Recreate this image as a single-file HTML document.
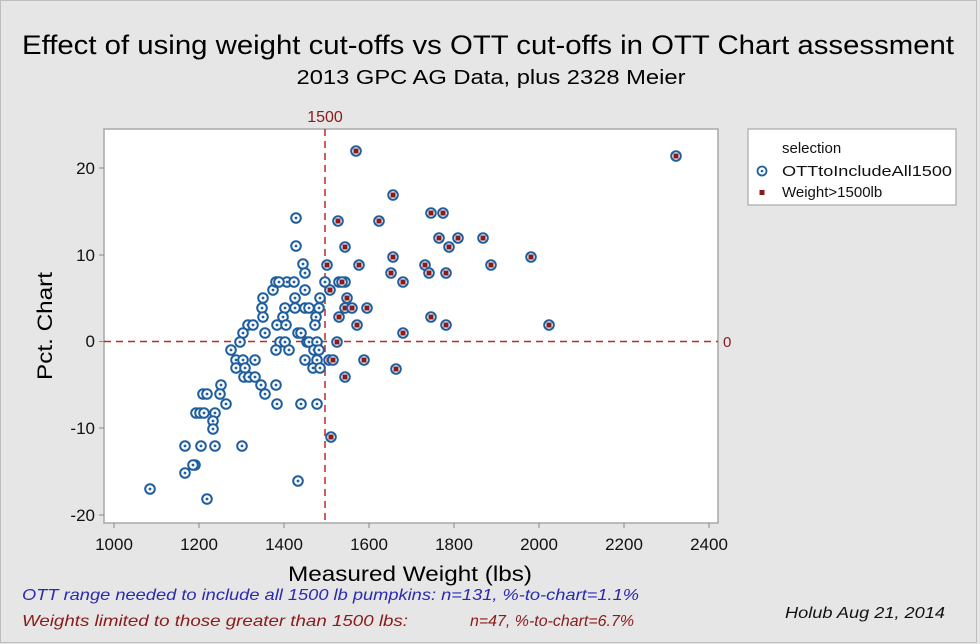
<!DOCTYPE html>
<html><head><meta charset="utf-8"><style>
html,body{margin:0;padding:0;background:#e6e6e6;}
svg{display:block;font-family:"Liberation Sans",sans-serif;}
</style></head><body>
<svg id="s" width="980" height="644" viewBox="0 0 980 644" xmlns="http://www.w3.org/2000/svg">
<rect x="0" y="0" width="980" height="644" fill="#e6e6e6"/>
<rect x="0.5" y="0.5" width="976" height="642" fill="none" stroke="#bdbdbd"/>
<text x="488" y="54" font-size="27" text-anchor="middle" textLength="932" lengthAdjust="spacingAndGlyphs" fill="#000">Effect of using weight cut-offs vs OTT cut-offs in OTT Chart assessment</text>
<text x="491" y="84" font-size="20" text-anchor="middle" textLength="389" lengthAdjust="spacingAndGlyphs" fill="#000">2013 GPC AG Data, plus 2328 Meier</text>
<rect x="104" y="129" width="614" height="394" fill="#fff" stroke="#a8a8a8" stroke-width="1.5"/>
<g stroke="#888" stroke-width="1">
<line x1="114" y1="523" x2="114" y2="528"/><line x1="199" y1="523" x2="199" y2="528"/><line x1="284" y1="523" x2="284" y2="528"/><line x1="369" y1="523" x2="369" y2="528"/><line x1="454" y1="523" x2="454" y2="528"/><line x1="539" y1="523" x2="539" y2="528"/><line x1="624" y1="523" x2="624" y2="528"/><line x1="709" y1="523" x2="709" y2="528"/>
<line x1="99" y1="515" x2="104" y2="515"/><line x1="99" y1="428" x2="104" y2="428"/><line x1="99" y1="341.5" x2="104" y2="341.5"/><line x1="99" y1="255" x2="104" y2="255"/><line x1="99" y1="168" x2="104" y2="168"/>
</g>
<g font-size="17" fill="#111" text-anchor="middle">
<text x="114" y="550">1000</text><text x="199" y="550">1200</text><text x="284" y="550">1400</text><text x="369" y="550">1600</text><text x="454" y="550">1800</text><text x="539" y="550">2000</text><text x="624" y="550">2200</text><text x="709" y="550">2400</text>
</g>
<g font-size="17" fill="#111" text-anchor="end">
<text x="95" y="521">-20</text><text x="95" y="434">-10</text><text x="95" y="347">0</text><text x="95" y="261">10</text><text x="95" y="174">20</text>
</g>
<text x="410" y="581" font-size="21" text-anchor="middle" textLength="244" lengthAdjust="spacingAndGlyphs">Measured Weight (lbs)</text>
<text transform="translate(52,326) rotate(-90)" font-size="21" text-anchor="middle" textLength="108" lengthAdjust="spacingAndGlyphs">Pct. Chart</text>
<line x1="325" y1="129" x2="325" y2="523" stroke="#c0282d" stroke-width="1.5" stroke-dasharray="7,5"/>
<line x1="104" y1="341.5" x2="718" y2="341.5" stroke="#c0282d" stroke-width="1.5" stroke-dasharray="7,5"/>
<text x="325" y="122" font-size="16" fill="#8b1a1a" text-anchor="middle">1500</text>
<text x="723" y="347" font-size="15" fill="#8b1a1a">0</text>
<g id="pts"></g>
<rect x="748" y="129" width="208" height="76" fill="#fff" stroke="#a8a8a8" stroke-width="1.2"/>
<text x="782" y="153" font-size="15" fill="#111">selection</text>
<circle cx="762" cy="171" r="4.5" fill="#fff" stroke="#1f5fa0" stroke-width="1.8"/><circle cx="762" cy="171" r="1.3" fill="#1f5fa0"/>
<text x="782" y="176" font-size="15" fill="#111" textLength="170" lengthAdjust="spacingAndGlyphs">OTTtoIncludeAll1500</text>
<rect x="759.5" y="190" width="5" height="5" fill="#8b1a1a"/>
<text x="782" y="197" font-size="15" fill="#111">Weight&gt;1500lb</text>
<g font-style="italic" font-size="16">
<text x="22" y="600" fill="#2a2ab0" textLength="617" lengthAdjust="spacingAndGlyphs">OTT range needed to include all 1500 lb pumpkins: n=131, %-to-chart=1.1%</text>
<text x="22" y="626" fill="#8b1a1a" textLength="386" lengthAdjust="spacingAndGlyphs">Weights limited to those greater than 1500 lbs:</text>
<text x="470" y="626" fill="#8b1a1a" textLength="164" lengthAdjust="spacingAndGlyphs">n=47, %-to-chart=6.7%</text>
<text x="785" y="618" fill="#111" textLength="160" lengthAdjust="spacingAndGlyphs">Holub Aug 21, 2014</text>
</g>
</svg>
<script>
var blue=[[296,218],[296,246],[303,264],[305,273],[277,282],[287,282],[294,282],[325,282],[273,290],[305,290],[263,298],[295,298],[320,298],[262,308],[285,308],[295,308],[305,308],[309,308],[319,308],[263,317],[283,317],[316,317],[248,325],[253,325],[277,325],[286,325],[315,325],[243,333],[265,333],[298,333],[301,333],[240,342],[280,342],[285,342],[307,342],[309,342],[317,342],[231,350],[276,350],[289,350],[314,350],[319,350],[236,360],[243,360],[255,360],[305,360],[317,360],[236,368],[245,368],[313,368],[320,368],[244,377],[249,377],[255,377],[261,385],[276,385],[221,385],[203,394],[207,394],[220,394],[265,394],[226,404],[277,404],[301,404],[317,404],[196,413],[200,413],[204,413],[215,413],[213,421],[213,429],[185,446],[201,446],[215,446],[242,446],[195,465],[193,465],[185,473],[150,489],[207,499],[298,481],[276,282],[279,282]];
var red=[[356,151],[393,195],[338,221],[379,221],[431,213],[443,213],[345,247],[439,238],[458,238],[483,238],[449,247],[393,257],[531,257],[327,265],[359,265],[425,265],[491,265],[391,273],[429,273],[446,273],[339,282],[345,282],[342,282],[403,282],[330,290],[347,298],[345,308],[352,308],[367,308],[339,317],[357,325],[431,317],[446,325],[549,325],[403,333],[337,342],[329,360],[333,360],[364,360],[396,369],[345,377],[331,437],[676,156]];
var g=document.getElementById('pts'),h='';
blue.forEach(function(p){h+='<circle cx="'+p[0]+'" cy="'+p[1]+'" r="4.8" fill="#fff" stroke="#1f5fa0" stroke-width="2"/><circle cx="'+p[0]+'" cy="'+p[1]+'" r="1.4" fill="#1f5fa0"/>';});
red.forEach(function(p){h+='<circle cx="'+p[0]+'" cy="'+p[1]+'" r="4.8" fill="#fff" stroke="#1f5fa0" stroke-width="2"/><rect x="'+(p[0]-2.5)+'" y="'+(p[1]-2.5)+'" width="5" height="5" fill="#8b1a1a"/>';});
g.innerHTML=h;
</script>
</body></html>
